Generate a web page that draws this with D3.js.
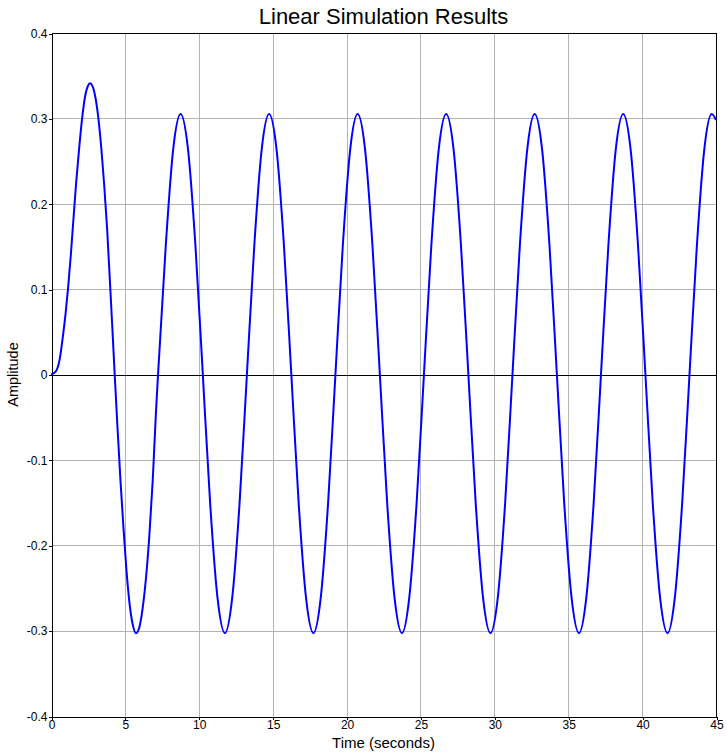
<!DOCTYPE html>
<html>
<head>
<meta charset="utf-8">
<script src="https://cdn.jsdelivr.net/npm/d3@7"></script>
<style>
  html, body { margin: 0; padding: 0; background: #fff; }
  svg { display: block; font-family: "Liberation Sans", Arial, sans-serif; }
</style>
</head>
<body>
<svg id="chart" width="727" height="755"></svg>
<script>
// ---- data ----
const title = "Linear Simulation Results";
const xLabel = "Time (seconds)";
const yLabel = "Amplitude";
const xTicks = [0, 5, 10, 15, 20, 25, 30, 35, 40, 45];
const yTicks = [-0.4, -0.3, -0.2, -0.1, 0, 0.1, 0.2, 0.3, 0.4];
const yTickLabels = ["-0.4", "-0.3", "-0.2", "-0.1", "0", "0.1", "0.2", "0.3", "0.4"];

const time = [
  0, 0.34, 0.59, 0.77, 0.99, 1.17, 1.35, 1.51, 1.70, 1.90, 2.10, 2.30, 2.50, 2.64, 2.80, 3.00, 3.20, 3.40,
  3.60, 3.80, 3.99, 4.15, 4.31, 4.50, 4.70, 4.89, 5.10, 5.30, 5.52, 5.75, 5.98, 6.20, 6.43, 6.65, 6.88, 7.10, 7.26,
  7.77, 8.27,
  8.77, 9.27, 9.77, 10.27, 10.77, 11.27, 11.77, 12.26, 12.76, 13.26, 13.76, 14.26,
  14.76, 15.26, 15.76, 16.26, 16.76, 17.26, 17.76, 18.25, 18.75, 19.25, 19.75, 20.25,
  20.75, 21.25, 21.75, 22.25, 22.75, 23.25, 23.75, 24.24, 24.74, 25.24, 25.74, 26.24,
  26.74, 27.24, 27.74, 28.24, 28.74, 29.24, 29.74, 30.23, 30.73, 31.23, 31.73, 32.23,
  32.73, 33.23, 33.73, 34.23, 34.73, 35.23, 35.73, 36.22, 36.72, 37.22, 37.72, 38.22,
  38.72, 39.22, 39.72, 40.22, 40.72, 41.22, 41.72, 42.21, 42.71, 43.21, 43.71, 44.21,
  44.71, 45.00
];
const amplitude = [
  0, 0.004, 0.018, 0.040, 0.072, 0.104, 0.142, 0.180, 0.224, 0.264, 0.299, 0.325, 0.338, 0.341, 0.338, 0.325, 0.301, 0.266,
  0.222, 0.170, 0.108, 0.055, 0.000, -0.062, -0.124, -0.176, -0.228, -0.266, -0.292, -0.303, -0.296, -0.274, -0.238, -0.190, -0.125, -0.045, 0.005,
  0.152, 0.264,
  0.305, 0.264, 0.152, 0.001, -0.151, -0.262, -0.303, -0.262, -0.151, 0.001, 0.152, 0.264,
  0.305, 0.264, 0.152, 0.001, -0.151, -0.262, -0.303, -0.262, -0.151, 0.001, 0.152, 0.264,
  0.305, 0.264, 0.152, 0.001, -0.151, -0.262, -0.303, -0.262, -0.151, 0.001, 0.152, 0.264,
  0.305, 0.264, 0.152, 0.001, -0.151, -0.262, -0.303, -0.262, -0.151, 0.001, 0.152, 0.264,
  0.305, 0.264, 0.152, 0.001, -0.151, -0.262, -0.303, -0.262, -0.151, 0.001, 0.152, 0.264,
  0.305, 0.264, 0.152, 0.001, -0.151, -0.262, -0.303, -0.262, -0.151, 0.001, 0.152, 0.264,
  0.305, 0.298
];

// ---- layout ----
const svg = d3.select("#chart");
const pLeft = 51, pRight = 716, pTop = 33, pBottom = 716;

const x = d3.scaleLinear().domain([0, 45]).range([pLeft, pRight]);
const y = d3.scaleLinear().domain([-0.4, 0.4]).range([pBottom, pTop]);

const g = svg.append("g").attr("transform", "translate(0.5,0.5)");

// grid
g.append("g").selectAll("line").data(xTicks.slice(1, -1)).join("line")
  .attr("x1", d => x(d)).attr("x2", d => x(d))
  .attr("y1", pTop).attr("y2", pBottom)
  .attr("stroke", "#b4b4b4").attr("stroke-width", 1).attr("shape-rendering", "crispEdges");
g.append("g").selectAll("line").data(yTicks.slice(1, -1)).join("line")
  .attr("x1", pLeft).attr("x2", pRight)
  .attr("y1", d => y(d)).attr("y2", d => y(d))
  .attr("stroke", "#b4b4b4").attr("stroke-width", 1).attr("shape-rendering", "crispEdges");

// zero line
g.append("line")
  .attr("x1", pLeft).attr("x2", pRight).attr("y1", y(0)).attr("y2", y(0))
  .attr("stroke", "#000").attr("stroke-width", 1).attr("shape-rendering", "crispEdges");

// clip
svg.append("defs").append("clipPath").attr("id", "clip")
  .append("rect").attr("x", pLeft).attr("y", pTop).attr("width", pRight - pLeft + 1).attr("height", pBottom - pTop);

// series
const pts = time.map((t, i) => [t, amplitude[i]]);
const line = d3.line().x(d => x(d[0])).y(d => y(d[1])).curve(d3.curveMonotoneX);
svg.append("path")
  .attr("clip-path", "url(#clip)")
  .attr("d", line(pts))
  .attr("fill", "none").attr("stroke", "#0000ff").attr("stroke-width", 2)
  .attr("stroke-linejoin", "round");

// axes
const xAxis = d3.axisBottom(x).tickValues(xTicks).tickSize(3).tickSizeOuter(0).tickFormat(d3.format("d"));
const yAxis = d3.axisLeft(y).tickValues(yTicks).tickSize(3).tickSizeOuter(0)
  .tickFormat((d, i) => yTickLabels[i]);

const gx = g.append("g").attr("transform", `translate(0,${pBottom})`).call(xAxis);
const gy = g.append("g").attr("transform", `translate(${pLeft},0)`).call(yAxis);
[gx, gy].forEach(a => {
  a.selectAll("path, line").attr("stroke", "#000").attr("shape-rendering", "crispEdges");
  a.selectAll("text").attr("fill", "#000").style("font-size", "12px")
    .style("font-family", '"Liberation Sans", Arial, sans-serif');
});
gx.selectAll("text").attr("dy", "0.71em").attr("y", 4);
gy.selectAll("text").attr("x", -4);

// frame (top and right)
g.append("line").attr("x1", pLeft).attr("x2", pRight).attr("y1", pTop).attr("y2", pTop)
  .attr("stroke", "#000").attr("shape-rendering", "crispEdges");
g.append("line").attr("x1", pRight).attr("x2", pRight).attr("y1", pTop).attr("y2", pBottom)
  .attr("stroke", "#000").attr("shape-rendering", "crispEdges");

// labels
svg.append("text").attr("x", (pLeft + pRight) / 2).attr("y", 24)
  .attr("text-anchor", "middle").style("font-size", "22px").attr("fill", "#000").text(title);
svg.append("text").attr("x", (pLeft + pRight) / 2).attr("y", 748)
  .attr("text-anchor", "middle").style("font-size", "15px").attr("fill", "#000").text(xLabel);
svg.append("text").attr("transform", `translate(18,${(pTop + pBottom) / 2}) rotate(-90)`)
  .attr("text-anchor", "middle").style("font-size", "14.5px").attr("fill", "#000").text(yLabel);
</script>
</body>
</html>
